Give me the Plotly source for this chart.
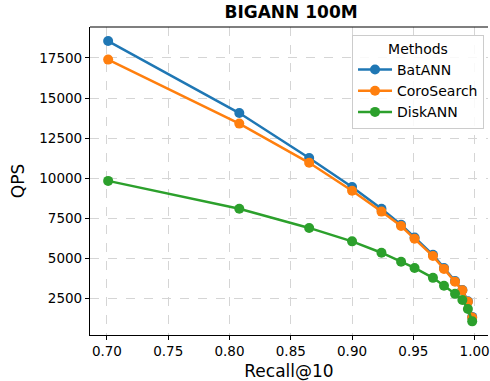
import plotly.graph_objects as go

methods = ["BatANN", "CoroSearch", "DiskANN"]
colors = ["#1f77b4", "#ff7f0e", "#2ca02c"]

recall_bat = [0.701, 0.808, 0.865, 0.900, 0.924, 0.940, 0.951, 0.966, 0.975, 0.984, 0.990, 0.9945, 0.998]
qps_bat = [18560, 14060, 11250, 9440, 8080, 7080, 6280, 5200, 4380, 3560, 3000, 2300, 1320]

recall_coro = [0.701, 0.808, 0.865, 0.900, 0.924, 0.940, 0.951, 0.966, 0.975, 0.984, 0.990, 0.9945, 0.998]
qps_coro = [17400, 13400, 10950, 9200, 7900, 7000, 6200, 5120, 4320, 3520, 2980, 2260, 1280]

recall_disk = [0.701, 0.808, 0.865, 0.900, 0.924, 0.940, 0.951, 0.966, 0.975, 0.984, 0.990, 0.9945, 0.998]
qps_disk = [9820, 8080, 6880, 6040, 5330, 4770, 4380, 3760, 3270, 2760, 2380, 1810, 1040]

series = [(recall_bat, qps_bat), (recall_coro, qps_coro), (recall_disk, qps_disk)]

x_ticks = [0.70, 0.75, 0.80, 0.85, 0.90, 0.95, 1.00]
x_tick_text = ["0.70", "0.75", "0.80", "0.85", "0.90", "0.95", "1.00"]
y_ticks = [2500, 5000, 7500, 10000, 12500, 15000, 17500]
y_tick_text = ["2500", "5000", "7500", "10000", "12500", "15000", "17500"]

fig = go.Figure()
for name, color, (xs, ys) in zip(methods, colors, series):
    fig.add_trace(go.Scatter(
        x=xs, y=ys, name=name, mode="lines+markers",
        line=dict(color=color, width=2.5),
        marker=dict(color=color, size=10),
    ))

font = "DejaVu Sans"
fig.update_layout(
    width=490, height=381,
    margin=dict(l=90, r=0, t=27, b=46),
    paper_bgcolor="white", plot_bgcolor="white",
    font=dict(family=font, size=13.5, color="black"),
    title=dict(text="<b>BIGANN 100M</b>", x=0.594, xanchor="center", y=0.968, yanchor="middle",
               font=dict(family=font, size=17, color="black")),
    legend=dict(
        title=dict(text="Methods", side="top center", font=dict(size=14)),
        x=0.99, xanchor="right", y=0.975, yanchor="top",
        bgcolor="rgba(255,255,255,0.85)", bordercolor="#cccccc", borderwidth=1,
        font=dict(family=font, size=14), itemwidth=34, tracegroupgap=0,
    ),
    showlegend=True,
)
fig.update_xaxes(
    range=[0.6862, 1.0109], tickvals=x_ticks, ticktext=x_tick_text,
    ticklabeloverflow="allow",
    showline=True, linecolor="black", linewidth=1.2, mirror=False,
    ticks="outside", ticklen=4, tickcolor="black",
    showgrid=True, gridcolor="#d5d5d5", griddash="dash", gridwidth=1,
    zeroline=False,
    title=dict(text="Recall@10", font=dict(size=17), standoff=6),
    tickfont=dict(size=13.5),
)
fig.update_yaxes(
    range=[188, 19437], tickvals=y_ticks, ticktext=y_tick_text,
    showline=True, linecolor="black", linewidth=1.2,
    ticks="outside", ticklen=4, tickcolor="black",
    showgrid=True, gridcolor="#d5d5d5", griddash="dash", gridwidth=1,
    zeroline=False,
    title=dict(text="QPS", font=dict(size=17), standoff=10),
    tickfont=dict(size=13.5),
)
# top spine
fig.add_shape(type="line", xref="paper", yref="paper", x0=0, x1=1, y0=1, y1=1,
              line=dict(color="black", width=1.2))

fig.write_html("out.html")
